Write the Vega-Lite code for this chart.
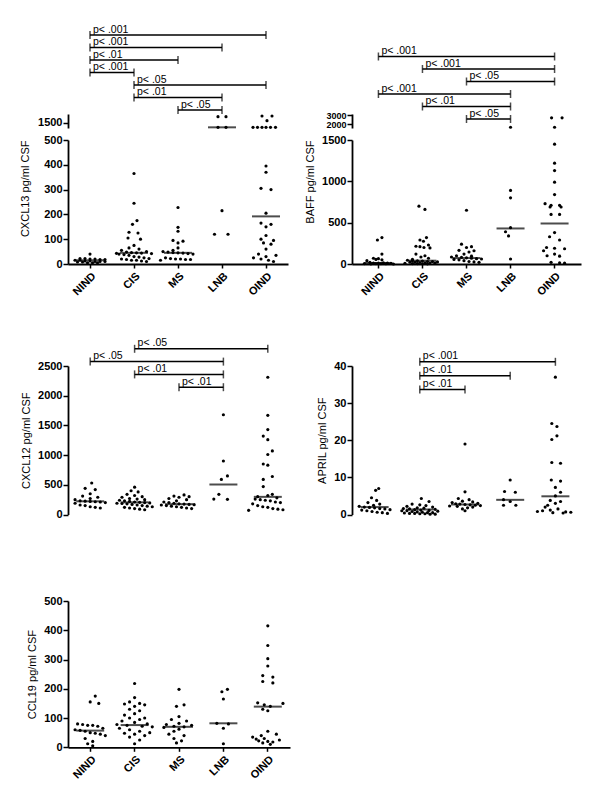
{
"$schema": "https://vega.github.io/schema/vega-lite/v6.json",
"padding": {"left": 19, "top": 24, "right": 5, "bottom": 5},
"config": {
  "font": "Liberation Sans",
  "view": {"stroke": null},
  "axis": {"domainColor": "black", "domainWidth": 1.8, "tickColor": "black", "tickWidth": 1.5, "tickSize": 5, "labelFont": "Liberation Sans", "labelFontWeight": "bold", "labelFontSize": 11, "labelColor": "black", "labelPadding": 1, "labelFlush": false, "labelOverlap": false, "titleFont": "Liberation Sans", "titleFontWeight": "normal", "titleFontSize": 11, "titleColor": "black", "grid": false}
},
"datasets": {
"cxcl13": [
{"g":"NIND","v":40,"dx":0},{"g":"NIND","v":22,"dx":-2},{"g":"NIND","v":22,"dx":-1},{"g":"NIND","v":20,"dx":0},{"g":"NIND","v":20,"dx":1},{"g":"NIND","v":18,"dx":2},{"g":"NIND","v":18,"dx":3},{"g":"NIND","v":15,"dx":-3},{"g":"NIND","v":15,"dx":-2},{"g":"NIND","v":12,"dx":-1},{"g":"NIND","v":12,"dx":0},{"g":"NIND","v":10,"dx":1},{"g":"NIND","v":10,"dx":2},{"g":"NIND","v":10,"dx":3},{"g":"NIND","v":8,"dx":-2.5},{"g":"NIND","v":8,"dx":-1.5},{"g":"NIND","v":5,"dx":-0.5},{"g":"NIND","v":5,"dx":0.5},{"g":"NIND","v":5,"dx":1.5},
{"g":"CIS","v":365,"dx":0},{"g":"CIS","v":245,"dx":0},{"g":"CIS","v":175,"dx":0.6},{"g":"CIS","v":160,"dx":-0.3},{"g":"CIS","v":128,"dx":-1},{"g":"CIS","v":125,"dx":0.8},{"g":"CIS","v":105,"dx":-1.2},{"g":"CIS","v":100,"dx":1.3},{"g":"CIS","v":75,"dx":0},{"g":"CIS","v":65,"dx":-1},{"g":"CIS","v":60,"dx":1},{"g":"CIS","v":55,"dx":-2.5},{"g":"CIS","v":50,"dx":2.5},{"g":"CIS","v":48,"dx":-1.5},{"g":"CIS","v":46,"dx":-0.5},{"g":"CIS","v":45,"dx":0.5},{"g":"CIS","v":44,"dx":1.5},{"g":"CIS","v":43,"dx":-3.5},{"g":"CIS","v":42,"dx":3.5},{"g":"CIS","v":40,"dx":-3},{"g":"CIS","v":38,"dx":-2},{"g":"CIS","v":35,"dx":-1},{"g":"CIS","v":30,"dx":0},{"g":"CIS","v":28,"dx":1},{"g":"CIS","v":25,"dx":2},{"g":"CIS","v":22,"dx":3},{"g":"CIS","v":20,"dx":-2.5},{"g":"CIS","v":18,"dx":-1.5},{"g":"CIS","v":15,"dx":-0.5},{"g":"CIS","v":15,"dx":0.5},{"g":"CIS","v":12,"dx":1.5},{"g":"CIS","v":10,"dx":2.5},
{"g":"MS","v":228,"dx":0},{"g":"MS","v":148,"dx":0},{"g":"MS","v":132,"dx":0},{"g":"MS","v":95,"dx":-1},{"g":"MS","v":92,"dx":1},{"g":"MS","v":85,"dx":0},{"g":"MS","v":65,"dx":0},{"g":"MS","v":55,"dx":-1},{"g":"MS","v":50,"dx":-3},{"g":"MS","v":48,"dx":-2},{"g":"MS","v":46,"dx":-1},{"g":"MS","v":45,"dx":0},{"g":"MS","v":44,"dx":1},{"g":"MS","v":42,"dx":2},{"g":"MS","v":40,"dx":3},{"g":"MS","v":25,"dx":-2.5},{"g":"MS","v":22,"dx":-1.5},{"g":"MS","v":20,"dx":-0.5},{"g":"MS","v":20,"dx":0.5},{"g":"MS","v":18,"dx":1.5},{"g":"MS","v":18,"dx":2.5},{"g":"MS","v":15,"dx":-3.5},
{"g":"LNB","v":1590,"dx":-0.8},{"g":"LNB","v":1590,"dx":0.8},{"g":"LNB","v":1430,"dx":-0.8},{"g":"LNB","v":1430,"dx":0.8},{"g":"LNB","v":215,"dx":0},{"g":"LNB","v":120,"dx":-1.5},{"g":"LNB","v":120,"dx":1.2},
{"g":"OIND","v":1600,"dx":-0.8},{"g":"OIND","v":1600,"dx":1.2},{"g":"OIND","v":1530,"dx":0.2},{"g":"OIND","v":1430,"dx":-2.6},{"g":"OIND","v":1430,"dx":-1.7},{"g":"OIND","v":1430,"dx":-0.8},{"g":"OIND","v":1430,"dx":0},{"g":"OIND","v":1430,"dx":0.9},{"g":"OIND","v":1430,"dx":1.9},{"g":"OIND","v":395,"dx":0},{"g":"OIND","v":370,"dx":0},{"g":"OIND","v":305,"dx":-1},{"g":"OIND","v":300,"dx":1},{"g":"OIND","v":205,"dx":0},{"g":"OIND","v":165,"dx":-1},{"g":"OIND","v":160,"dx":1},{"g":"OIND","v":150,"dx":0},{"g":"OIND","v":115,"dx":0},{"g":"OIND","v":100,"dx":-1},{"g":"OIND","v":95,"dx":1.5},{"g":"OIND","v":85,"dx":-0.5},{"g":"OIND","v":80,"dx":1},{"g":"OIND","v":60,"dx":0},{"g":"OIND","v":40,"dx":-1.5},{"g":"OIND","v":35,"dx":2},{"g":"OIND","v":30,"dx":0},{"g":"OIND","v":25,"dx":-2.5},{"g":"OIND","v":20,"dx":-1},{"g":"OIND","v":15,"dx":0.5},{"g":"OIND","v":10,"dx":1.5}
],
"baff": [
{"g":"NIND","v":320,"dx":0.7},{"g":"NIND","v":290,"dx":-0.2},{"g":"NIND","v":120,"dx":0.7},{"g":"NIND","v":70,"dx":-1},{"g":"NIND","v":65,"dx":0},{"g":"NIND","v":55,"dx":-0.5},{"g":"NIND","v":50,"dx":0.7},{"g":"NIND","v":40,"dx":-2.3},{"g":"NIND","v":20,"dx":-1.7},{"g":"NIND","v":15,"dx":1},{"g":"NIND","v":12,"dx":-1},{"g":"NIND","v":10,"dx":0},{"g":"NIND","v":10,"dx":1.8},{"g":"NIND","v":8,"dx":2.5},{"g":"NIND","v":5,"dx":-2.8},{"g":"NIND","v":5,"dx":-0.5},{"g":"NIND","v":5,"dx":0.5},{"g":"NIND","v":3,"dx":1.5},{"g":"NIND","v":2,"dx":-1.5},{"g":"NIND","v":0,"dx":3},
{"g":"CIS","v":700,"dx":-0.7},{"g":"CIS","v":660,"dx":0.5},{"g":"CIS","v":320,"dx":0.8},{"g":"CIS","v":290,"dx":-0.5},{"g":"CIS","v":275,"dx":0.2},{"g":"CIS","v":230,"dx":1.2},{"g":"CIS","v":215,"dx":-1.3},{"g":"CIS","v":210,"dx":-0.5},{"g":"CIS","v":200,"dx":0.3},{"g":"CIS","v":195,"dx":1.5},{"g":"CIS","v":120,"dx":-1.3},{"g":"CIS","v":100,"dx":0.5},{"g":"CIS","v":85,"dx":-0.3},{"g":"CIS","v":70,"dx":1.2},{"g":"CIS","v":55,"dx":-2},{"g":"CIS","v":45,"dx":-3},{"g":"CIS","v":40,"dx":-2},{"g":"CIS","v":38,"dx":-1},{"g":"CIS","v":35,"dx":0},{"g":"CIS","v":30,"dx":1},{"g":"CIS","v":28,"dx":2},{"g":"CIS","v":25,"dx":3},{"g":"CIS","v":22,"dx":-2.5},{"g":"CIS","v":20,"dx":-1.5},{"g":"CIS","v":18,"dx":-0.5},{"g":"CIS","v":15,"dx":0.5},{"g":"CIS","v":12,"dx":1.5},{"g":"CIS","v":10,"dx":2.5},{"g":"CIS","v":8,"dx":-3.5},{"g":"CIS","v":5,"dx":-2},{"g":"CIS","v":5,"dx":-1},{"g":"CIS","v":3,"dx":0},{"g":"CIS","v":2,"dx":1},
{"g":"MS","v":650,"dx":0},{"g":"MS","v":240,"dx":-1},{"g":"MS","v":210,"dx":1},{"g":"MS","v":200,"dx":0},{"g":"MS","v":165,"dx":-1.5},{"g":"MS","v":160,"dx":1.5},{"g":"MS","v":145,"dx":0.5},{"g":"MS","v":120,"dx":-0.5},{"g":"MS","v":100,"dx":-2},{"g":"MS","v":95,"dx":1},{"g":"MS","v":85,"dx":-3},{"g":"MS","v":80,"dx":-1},{"g":"MS","v":75,"dx":0},{"g":"MS","v":70,"dx":1},{"g":"MS","v":65,"dx":2},{"g":"MS","v":60,"dx":3},{"g":"MS","v":55,"dx":-2.5},{"g":"MS","v":50,"dx":-1.5},{"g":"MS","v":40,"dx":-0.5},{"g":"MS","v":30,"dx":0.5},{"g":"MS","v":25,"dx":1.5},{"g":"MS","v":20,"dx":2.5},
{"g":"LNB","v":1680,"dx":0},{"g":"LNB","v":890,"dx":0},{"g":"LNB","v":800,"dx":0},{"g":"LNB","v":440,"dx":0},{"g":"LNB","v":390,"dx":-1},{"g":"LNB","v":340,"dx":-0.4},{"g":"LNB","v":60,"dx":0},
{"g":"OIND","v":2700,"dx":-0.6},{"g":"OIND","v":2700,"dx":1.5},{"g":"OIND","v":1680,"dx":0},{"g":"OIND","v":1450,"dx":0},{"g":"OIND","v":1220,"dx":0},{"g":"OIND","v":1130,"dx":0},{"g":"OIND","v":990,"dx":0},{"g":"OIND","v":840,"dx":0},{"g":"OIND","v":730,"dx":-1.9},{"g":"OIND","v":710,"dx":-0.7},{"g":"OIND","v":710,"dx":1},{"g":"OIND","v":690,"dx":-0.9},{"g":"OIND","v":690,"dx":1.3},{"g":"OIND","v":600,"dx":-0.7},{"g":"OIND","v":600,"dx":1},{"g":"OIND","v":380,"dx":0},{"g":"OIND","v":330,"dx":-1},{"g":"OIND","v":290,"dx":1},{"g":"OIND","v":200,"dx":-1.6},{"g":"OIND","v":190,"dx":0},{"g":"OIND","v":185,"dx":2},{"g":"OIND","v":160,"dx":-2.2},{"g":"OIND","v":120,"dx":0},{"g":"OIND","v":100,"dx":-1.5},{"g":"OIND","v":95,"dx":1},{"g":"OIND","v":20,"dx":-0.7},{"g":"OIND","v":15,"dx":1},{"g":"OIND","v":10,"dx":2}
],
"cxcl12": [
{"g":"NIND","v":530,"dx":0.3},{"g":"NIND","v":440,"dx":-1},{"g":"NIND","v":420,"dx":1},{"g":"NIND","v":350,"dx":0},{"g":"NIND","v":310,"dx":-1.5},{"g":"NIND","v":290,"dx":1.5},{"g":"NIND","v":270,"dx":0},{"g":"NIND","v":250,"dx":-3},{"g":"NIND","v":230,"dx":-2},{"g":"NIND","v":225,"dx":-1},{"g":"NIND","v":220,"dx":0},{"g":"NIND","v":215,"dx":1},{"g":"NIND","v":210,"dx":2},{"g":"NIND","v":200,"dx":3},{"g":"NIND","v":190,"dx":-3},{"g":"NIND","v":160,"dx":-2},{"g":"NIND","v":150,"dx":-1},{"g":"NIND","v":130,"dx":0},{"g":"NIND","v":120,"dx":1},{"g":"NIND","v":110,"dx":2},
{"g":"CIS","v":460,"dx":0},{"g":"CIS","v":400,"dx":-0.7},{"g":"CIS","v":380,"dx":0.7},{"g":"CIS","v":340,"dx":-1.5},{"g":"CIS","v":320,"dx":0},{"g":"CIS","v":300,"dx":1.5},{"g":"CIS","v":290,"dx":-2.5},{"g":"CIS","v":270,"dx":-1},{"g":"CIS","v":260,"dx":0.5},{"g":"CIS","v":250,"dx":2},{"g":"CIS","v":240,"dx":-3},{"g":"CIS","v":230,"dx":-2},{"g":"CIS","v":220,"dx":-1},{"g":"CIS","v":210,"dx":0},{"g":"CIS","v":205,"dx":1},{"g":"CIS","v":200,"dx":2},{"g":"CIS","v":195,"dx":3},{"g":"CIS","v":190,"dx":-3.5},{"g":"CIS","v":185,"dx":-2.5},{"g":"CIS","v":180,"dx":-1.5},{"g":"CIS","v":170,"dx":-0.5},{"g":"CIS","v":160,"dx":0.5},{"g":"CIS","v":150,"dx":1.5},{"g":"CIS","v":140,"dx":2.5},{"g":"CIS","v":130,"dx":3.5},{"g":"CIS","v":120,"dx":-2},{"g":"CIS","v":110,"dx":-1},{"g":"CIS","v":100,"dx":0},{"g":"CIS","v":90,"dx":1},{"g":"CIS","v":80,"dx":2},
{"g":"MS","v":330,"dx":1},{"g":"MS","v":310,"dx":-1},{"g":"MS","v":300,"dx":2},{"g":"MS","v":290,"dx":0},{"g":"MS","v":270,"dx":-2},{"g":"MS","v":250,"dx":1.5},{"g":"MS","v":230,"dx":-0.5},{"g":"MS","v":210,"dx":-3},{"g":"MS","v":200,"dx":-2},{"g":"MS","v":190,"dx":-1},{"g":"MS","v":180,"dx":0},{"g":"MS","v":175,"dx":1},{"g":"MS","v":170,"dx":2},{"g":"MS","v":165,"dx":3},{"g":"MS","v":160,"dx":-3.5},{"g":"MS","v":150,"dx":-2.5},{"g":"MS","v":140,"dx":-1.5},{"g":"MS","v":130,"dx":-0.5},{"g":"MS","v":120,"dx":0.5},{"g":"MS","v":110,"dx":1.5},{"g":"MS","v":100,"dx":2.5},
{"g":"LNB","v":1680,"dx":0},{"g":"LNB","v":900,"dx":0},{"g":"LNB","v":650,"dx":0.8},{"g":"LNB","v":590,"dx":-0.4},{"g":"LNB","v":340,"dx":-0.9},{"g":"LNB","v":260,"dx":-1.9},{"g":"LNB","v":255,"dx":0.8},
{"g":"OIND","v":2310,"dx":0},{"g":"OIND","v":1670,"dx":0},{"g":"OIND","v":1430,"dx":0},{"g":"OIND","v":1320,"dx":-0.9},{"g":"OIND","v":1260,"dx":0},{"g":"OIND","v":1070,"dx":0.9},{"g":"OIND","v":1010,"dx":0},{"g":"OIND","v":850,"dx":-0.9},{"g":"OIND","v":830,"dx":0},{"g":"OIND","v":640,"dx":0.9},{"g":"OIND","v":590,"dx":-0.9},{"g":"OIND","v":470,"dx":-0.9},{"g":"OIND","v":340,"dx":0.9},{"g":"OIND","v":320,"dx":0},{"g":"OIND","v":300,"dx":-2},{"g":"OIND","v":280,"dx":1.8},{"g":"OIND","v":260,"dx":-2.5},{"g":"OIND","v":250,"dx":-1.5},{"g":"OIND","v":240,"dx":-0.5},{"g":"OIND","v":230,"dx":0.5},{"g":"OIND","v":210,"dx":1.5},{"g":"OIND","v":200,"dx":2.5},{"g":"OIND","v":180,"dx":-3},{"g":"OIND","v":150,"dx":-2},{"g":"OIND","v":130,"dx":-1},{"g":"OIND","v":120,"dx":0},{"g":"OIND","v":100,"dx":1},{"g":"OIND","v":90,"dx":2},{"g":"OIND","v":80,"dx":3},{"g":"OIND","v":70,"dx":-3.8}
],
"april": [
{"g":"NIND","v":7,"dx":0.8},{"g":"NIND","v":6.5,"dx":0.2},{"g":"NIND","v":4.5,"dx":-0.6},{"g":"NIND","v":3.8,"dx":0.4},{"g":"NIND","v":3.2,"dx":-1.3},{"g":"NIND","v":2.8,"dx":1},{"g":"NIND","v":2.5,"dx":-0.2},{"g":"NIND","v":2.2,"dx":-3},{"g":"NIND","v":2.0,"dx":-2},{"g":"NIND","v":1.9,"dx":-1},{"g":"NIND","v":1.8,"dx":0},{"g":"NIND","v":1.6,"dx":1},{"g":"NIND","v":1.5,"dx":2},{"g":"NIND","v":1.3,"dx":3},{"g":"NIND","v":1.2,"dx":-2.5},{"g":"NIND","v":1.0,"dx":-1.5},{"g":"NIND","v":0.8,"dx":-0.5},{"g":"NIND","v":0.6,"dx":0.5},{"g":"NIND","v":0.5,"dx":1.5},{"g":"NIND","v":0.3,"dx":2.5},
{"g":"CIS","v":4.3,"dx":0.3},{"g":"CIS","v":3.5,"dx":1.8},{"g":"CIS","v":2.8,"dx":-1.5},{"g":"CIS","v":2.6,"dx":0},{"g":"CIS","v":2.4,"dx":1.2},{"g":"CIS","v":2.2,"dx":-2.5},{"g":"CIS","v":2.0,"dx":2.5},{"g":"CIS","v":1.8,"dx":-0.5},{"g":"CIS","v":1.7,"dx":0.8},{"g":"CIS","v":1.6,"dx":-3.2},{"g":"CIS","v":1.5,"dx":-2},{"g":"CIS","v":1.4,"dx":3},{"g":"CIS","v":1.3,"dx":-1},{"g":"CIS","v":1.2,"dx":0.2},{"g":"CIS","v":1.1,"dx":1.8},{"g":"CIS","v":1.0,"dx":-3.5},{"g":"CIS","v":1.0,"dx":-2.5},{"g":"CIS","v":0.9,"dx":3.5},{"g":"CIS","v":0.8,"dx":-1.5},{"g":"CIS","v":0.7,"dx":-0.5},{"g":"CIS","v":0.6,"dx":0.5},{"g":"CIS","v":0.5,"dx":1.5},{"g":"CIS","v":0.5,"dx":2.5},{"g":"CIS","v":0.4,"dx":-3},{"g":"CIS","v":0.3,"dx":-2},{"g":"CIS","v":0.3,"dx":-1},{"g":"CIS","v":0.2,"dx":0},{"g":"CIS","v":0.2,"dx":1},{"g":"CIS","v":0.1,"dx":2},{"g":"CIS","v":0.1,"dx":3},
{"g":"MS","v":19,"dx":0},{"g":"MS","v":6.1,"dx":0},{"g":"MS","v":4.3,"dx":-1.3},{"g":"MS","v":4.0,"dx":0.8},{"g":"MS","v":3.6,"dx":-0.5},{"g":"MS","v":3.4,"dx":1.5},{"g":"MS","v":3.2,"dx":-2.5},{"g":"MS","v":3.0,"dx":2.5},{"g":"MS","v":2.9,"dx":-1.8},{"g":"MS","v":2.8,"dx":-1},{"g":"MS","v":2.7,"dx":0},{"g":"MS","v":2.6,"dx":1},{"g":"MS","v":2.5,"dx":2},{"g":"MS","v":2.4,"dx":3},{"g":"MS","v":2.3,"dx":-3},{"g":"MS","v":2.2,"dx":-1.5},{"g":"MS","v":2.0,"dx":1.5},{"g":"MS","v":1.8,"dx":0.5},{"g":"MS","v":1.5,"dx":-0.5},{"g":"MS","v":1.0,"dx":0},
{"g":"LNB","v":9.3,"dx":0},{"g":"LNB","v":6.2,"dx":-1.1},{"g":"LNB","v":6.0,"dx":1},{"g":"LNB","v":4.0,"dx":-1.3},{"g":"LNB","v":3.5,"dx":0},{"g":"LNB","v":2.5,"dx":-1.3},{"g":"LNB","v":2.5,"dx":1.1},
{"g":"OIND","v":37,"dx":0},{"g":"OIND","v":24.5,"dx":-0.7},{"g":"OIND","v":23.7,"dx":0.3},{"g":"OIND","v":21.2,"dx":0.3},{"g":"OIND","v":20.2,"dx":-0.7},{"g":"OIND","v":14,"dx":-0.7},{"g":"OIND","v":13.8,"dx":1},{"g":"OIND","v":9.3,"dx":-0.8},{"g":"OIND","v":9.0,"dx":1},{"g":"OIND","v":7.3,"dx":0},{"g":"OIND","v":6.0,"dx":1},{"g":"OIND","v":5.0,"dx":0},{"g":"OIND","v":3.8,"dx":-1},{"g":"OIND","v":3.5,"dx":1},{"g":"OIND","v":3.0,"dx":0},{"g":"OIND","v":2.5,"dx":-1.5},{"g":"OIND","v":2.0,"dx":-2},{"g":"OIND","v":1.5,"dx":0.5},{"g":"OIND","v":1.2,"dx":-1},{"g":"OIND","v":1.0,"dx":-2.5},{"g":"OIND","v":0.8,"dx":-3.5},{"g":"OIND","v":0.7,"dx":2},{"g":"OIND","v":0.6,"dx":3},{"g":"OIND","v":0.5,"dx":-0.5},{"g":"OIND","v":0.4,"dx":1.5}
],
"ccl19": [
{"g":"NIND","v":175,"dx":1},{"g":"NIND","v":155,"dx":0},{"g":"NIND","v":150,"dx":1.7},{"g":"NIND","v":80,"dx":-2.5},{"g":"NIND","v":78,"dx":-1.5},{"g":"NIND","v":75,"dx":-0.5},{"g":"NIND","v":75,"dx":0.5},{"g":"NIND","v":72,"dx":1.5},{"g":"NIND","v":65,"dx":2.5},{"g":"NIND","v":60,"dx":-3},{"g":"NIND","v":58,"dx":-2},{"g":"NIND","v":55,"dx":-1},{"g":"NIND","v":50,"dx":0},{"g":"NIND","v":48,"dx":1},{"g":"NIND","v":45,"dx":2},{"g":"NIND","v":40,"dx":3},{"g":"NIND","v":30,"dx":-1},{"g":"NIND","v":20,"dx":0.5},{"g":"NIND","v":12,"dx":-0.5},{"g":"NIND","v":5,"dx":0.5},
{"g":"CIS","v":218,"dx":0},{"g":"CIS","v":170,"dx":0},{"g":"CIS","v":155,"dx":-1},{"g":"CIS","v":150,"dx":1},{"g":"CIS","v":148,"dx":-2},{"g":"CIS","v":145,"dx":2},{"g":"CIS","v":140,"dx":0},{"g":"CIS","v":130,"dx":-1},{"g":"CIS","v":125,"dx":1},{"g":"CIS","v":115,"dx":0},{"g":"CIS","v":110,"dx":-2},{"g":"CIS","v":100,"dx":2},{"g":"CIS","v":100,"dx":-1},{"g":"CIS","v":95,"dx":1},{"g":"CIS","v":90,"dx":-2.5},{"g":"CIS","v":85,"dx":0},{"g":"CIS","v":80,"dx":2.5},{"g":"CIS","v":78,"dx":-3.5},{"g":"CIS","v":75,"dx":-1.5},{"g":"CIS","v":72,"dx":1.5},{"g":"CIS","v":70,"dx":3.5},{"g":"CIS","v":65,"dx":-3},{"g":"CIS","v":60,"dx":-1},{"g":"CIS","v":55,"dx":1},{"g":"CIS","v":50,"dx":3},{"g":"CIS","v":48,"dx":-2},{"g":"CIS","v":45,"dx":0},{"g":"CIS","v":40,"dx":2},{"g":"CIS","v":35,"dx":-1},{"g":"CIS","v":25,"dx":1},{"g":"CIS","v":12,"dx":0},
{"g":"MS","v":198,"dx":0},{"g":"MS","v":145,"dx":1},{"g":"MS","v":140,"dx":-0.5},{"g":"MS","v":105,"dx":0},{"g":"MS","v":95,"dx":-1.5},{"g":"MS","v":90,"dx":1.5},{"g":"MS","v":82,"dx":0},{"g":"MS","v":78,"dx":-2.5},{"g":"MS","v":75,"dx":2.5},{"g":"MS","v":72,"dx":-1},{"g":"MS","v":70,"dx":1},{"g":"MS","v":68,"dx":-3},{"g":"MS","v":62,"dx":0},{"g":"MS","v":55,"dx":-1},{"g":"MS","v":45,"dx":-2},{"g":"MS","v":40,"dx":1},{"g":"MS","v":30,"dx":-1},{"g":"MS","v":22,"dx":0.5},{"g":"MS","v":15,"dx":-0.5},
{"g":"LNB","v":198,"dx":0.8},{"g":"LNB","v":190,"dx":-0.3},{"g":"LNB","v":165,"dx":0},{"g":"LNB","v":82,"dx":-1.3},{"g":"LNB","v":80,"dx":1},{"g":"LNB","v":65,"dx":0},{"g":"LNB","v":12,"dx":0},
{"g":"OIND","v":415,"dx":0},{"g":"OIND","v":348,"dx":0},{"g":"OIND","v":303,"dx":0},{"g":"OIND","v":278,"dx":0},{"g":"OIND","v":245,"dx":-1},{"g":"OIND","v":240,"dx":1},{"g":"OIND","v":225,"dx":-1},{"g":"OIND","v":220,"dx":1},{"g":"OIND","v":152,"dx":-2},{"g":"OIND","v":150,"dx":3},{"g":"OIND","v":145,"dx":-0.7},{"g":"OIND","v":140,"dx":0.5},{"g":"OIND","v":130,"dx":-1},{"g":"OIND","v":125,"dx":0},{"g":"OIND","v":55,"dx":0},{"g":"OIND","v":45,"dx":1.7},{"g":"OIND","v":40,"dx":-1.3},{"g":"OIND","v":35,"dx":-3},{"g":"OIND","v":30,"dx":-0.7},{"g":"OIND","v":28,"dx":-2.3},{"g":"OIND","v":25,"dx":2.3},{"g":"OIND","v":22,"dx":-1.8},{"g":"OIND","v":20,"dx":0},{"g":"OIND","v":18,"dx":1},{"g":"OIND","v":15,"dx":-1},{"g":"OIND","v":10,"dx":0.5}
],
"med": [
{"p":"CXCL13","g":"NIND","v":15},{"p":"CXCL13","g":"CIS","v":45},{"p":"CXCL13","g":"MS","v":45},{"p":"CXCL13","g":"LNB","v":1430},{"p":"CXCL13","g":"OIND","v":192},
{"p":"BAFF","g":"NIND","v":12},{"p":"BAFF","g":"CIS","v":40},{"p":"BAFF","g":"MS","v":72},{"p":"BAFF","g":"LNB","v":430},{"p":"BAFF","g":"OIND","v":490},
{"p":"CXCL12","g":"NIND","v":222},{"p":"CXCL12","g":"CIS","v":205},{"p":"CXCL12","g":"MS","v":174},{"p":"CXCL12","g":"LNB","v":505},{"p":"CXCL12","g":"OIND","v":297},
{"p":"APRIL","g":"NIND","v":2.0},{"p":"APRIL","g":"CIS","v":1.35},{"p":"APRIL","g":"MS","v":2.7},{"p":"APRIL","g":"LNB","v":3.95},{"p":"APRIL","g":"OIND","v":4.9},
{"p":"CCL19","g":"NIND","v":57},{"p":"CCL19","g":"CIS","v":76},{"p":"CCL19","g":"MS","v":70},{"p":"CCL19","g":"LNB","v":82},{"p":"CCL19","g":"OIND","v":139}
],
"sig": [
{"p":"CXCL13","a":"NIND","b":"OIND","lvl":7,"lab":"p< .001"},
{"p":"CXCL13","a":"NIND","b":"LNB","lvl":6,"lab":"p< .001"},
{"p":"CXCL13","a":"NIND","b":"MS","lvl":5,"lab":"p< .01"},
{"p":"CXCL13","a":"NIND","b":"CIS","lvl":4,"lab":"p< .001"},
{"p":"CXCL13","a":"CIS","b":"OIND","lvl":3,"lab":"p< .05"},
{"p":"CXCL13","a":"CIS","b":"LNB","lvl":2,"lab":"p< .01"},
{"p":"CXCL13","a":"MS","b":"LNB","lvl":1,"lab":"p< .05"},
{"p":"BAFF","a":"NIND","b":"OIND","lvl":6,"lab":"p< .001"},
{"p":"BAFF","a":"CIS","b":"OIND","lvl":5,"lab":"p< .001"},
{"p":"BAFF","a":"MS","b":"OIND","lvl":4,"lab":"p< .05"},
{"p":"BAFF","a":"NIND","b":"LNB","lvl":3,"lab":"p< .001"},
{"p":"BAFF","a":"CIS","b":"LNB","lvl":2,"lab":"p< .01"},
{"p":"BAFF","a":"MS","b":"LNB","lvl":1,"lab":"p< .05"},
{"p":"CXCL12","a":"CIS","b":"OIND","lvl":4,"lab":"p< .05"},
{"p":"CXCL12","a":"NIND","b":"LNB","lvl":3,"lab":"p< .05"},
{"p":"CXCL12","a":"CIS","b":"LNB","lvl":2,"lab":"p< .01"},
{"p":"CXCL12","a":"MS","b":"LNB","lvl":1,"lab":"p< .01"},
{"p":"APRIL","a":"CIS","b":"OIND","lvl":3,"lab":"p< .001"},
{"p":"APRIL","a":"CIS","b":"LNB","lvl":2,"lab":"p< .01"},
{"p":"APRIL","a":"CIS","b":"MS","lvl":1,"lab":"p< .01"}
]
},
"bounds": "flush",
"columns": 2,
"spacing": {"row": 12, "column": 62},
"resolve": {"scale": {"xOffset": "independent"}},
"concat": [
{
 "width": 220, "height": 14,
 "resolve": {"scale": {"y": "independent"}},
 "layer": [
  {"encoding": {
     "x": {"field": "g", "type": "nominal", "scale": {"type": "band", "domain": ["NIND","CIS","MS","LNB","OIND"], "paddingInner": 0, "paddingOuter": 0}, "axis": null},
     "y": {"field": "v", "type": "quantitative", "scale": {"domain": [1420, 1630], "nice": false, "zero": false}, "axis": {"values": [1500], "title": null, "format": "d", "labelOverlap": false}}},
   "layer": [
    {"data": {"name": "cxcl13"}, "transform": [{"filter": "datum.v >= 1000"}],
     "mark": {"type": "circle", "size": 10, "color": "black", "opacity": 1},
     "encoding": {"xOffset": {"field": "dx", "type": "quantitative", "scale": {"domain": [-4.4, 4.4]}}}},
    {"data": {"name": "med"}, "transform": [{"filter": "datum.p === 'CXCL13' && datum.v >= 1000"}],
     "mark": {"type": "tick", "size": 28, "thickness": 2, "color": "black"}}
  ]},
  {"data": {"name": "sig"}, "transform": [{"filter": "datum.p === 'CXCL13'"}],
   "encoding": {"y": {"field": "lvl", "type": "quantitative", "scale": {"domain": [-0.44, 0.68], "nice": false, "zero": false}, "axis": null}},
   "layer": [
    {"mark": {"type": "rule", "color": "black", "strokeWidth": 1.5}, "encoding": {"x": {"field": "a", "type": "nominal", "axis": null}, "x2": {"field": "b"}}},
    {"mark": {"type": "tick", "orient": "vertical", "size": 8, "thickness": 1.5, "color": "black"}, "encoding": {"x": {"field": "a", "type": "nominal", "axis": null}}},
    {"mark": {"type": "tick", "orient": "vertical", "size": 8, "thickness": 1.5, "color": "black"}, "encoding": {"x": {"field": "b", "type": "nominal", "axis": null}}},
    {"mark": {"type": "text", "align": "left", "baseline": "alphabetic", "dx": 3, "dy": -2.5, "fontSize": 10.5, "color": "black"}, "encoding": {"x": {"field": "a", "type": "nominal", "axis": null}, "text": {"field": "lab"}}}
   ]}
 ]
},
{
 "width": 229, "height": 14,
 "resolve": {"scale": {"y": "independent"}},
 "layer": [
  {"encoding": {
     "x": {"field": "g", "type": "nominal", "scale": {"type": "band", "domain": ["NIND","CIS","MS","LNB","OIND"], "paddingInner": 0, "paddingOuter": 0.1}, "axis": null},
     "y": {"field": "v", "type": "quantitative", "scale": {"domain": [1600, 3110], "nice": false, "zero": false}, "axis": {"values": [2000, 3000], "title": null, "format": "d", "labelOverlap": false, "labelFontSize": 9}}},
   "layer": [
    {"data": {"name": "baff"}, "transform": [{"filter": "datum.v >= 1600"}],
     "mark": {"type": "circle", "size": 10, "color": "black", "opacity": 1},
     "encoding": {"xOffset": {"field": "dx", "type": "quantitative", "scale": {"domain": [-4.4, 4.4]}}}},
    {"data": {"name": "med"}, "transform": [{"filter": "datum.p === 'BAFF' && datum.v >= 1600"}],
     "mark": {"type": "tick", "size": 28, "thickness": 2, "color": "black"}}
  ]},
  {"data": {"name": "sig"}, "transform": [{"filter": "datum.p === 'BAFF'"}],
   "encoding": {"y": {"field": "lvl", "type": "quantitative", "scale": {"domain": [0.28, 1.40], "nice": false, "zero": false}, "axis": null}},
   "layer": [
    {"mark": {"type": "rule", "color": "black", "strokeWidth": 1.5}, "encoding": {"x": {"field": "a", "type": "nominal", "axis": null}, "x2": {"field": "b"}}},
    {"mark": {"type": "tick", "orient": "vertical", "size": 8, "thickness": 1.5, "color": "black"}, "encoding": {"x": {"field": "a", "type": "nominal", "axis": null}}},
    {"mark": {"type": "tick", "orient": "vertical", "size": 8, "thickness": 1.5, "color": "black"}, "encoding": {"x": {"field": "b", "type": "nominal", "axis": null}}},
    {"mark": {"type": "text", "align": "left", "baseline": "alphabetic", "dx": 3, "dy": -2.5, "fontSize": 10.5, "color": "black"}, "encoding": {"x": {"field": "a", "type": "nominal", "axis": null}, "text": {"field": "lab"}}}
   ]}
 ]
},
{
 "width": 220, "height": 124,
 "encoding": {
   "x": {"field": "g", "type": "nominal", "scale": {"type": "band", "domain": ["NIND","CIS","MS","LNB","OIND"], "paddingInner": 0, "paddingOuter": 0}, "axis": {"title": null, "labelAngle": -45, "tickSize": 4, "labelPadding": 2}},
   "y": {"field": "v", "type": "quantitative", "scale": {"domain": [0, 500], "nice": false, "zero": false}, "axis": {"values": [0,100,200,300,400,500], "format": "d", "labelOverlap": false, "title": "CXCL13 pg/ml CSF", "titleAnchor": "end", "titlePadding": 13}}},
 "layer": [
  {"data": {"name": "cxcl13"}, "transform": [{"filter": "datum.v < 1000"}],
   "mark": {"type": "circle", "size": 10, "color": "black", "opacity": 1},
   "encoding": {"xOffset": {"field": "dx", "type": "quantitative", "scale": {"domain": [-4.4, 4.4]}}}},
  {"data": {"name": "med"}, "transform": [{"filter": "datum.p === 'CXCL13' && datum.v < 1000"}],
   "mark": {"type": "tick", "size": 28, "thickness": 2, "color": "black"}}
 ]
},
{
 "width": 229, "height": 124,
 "encoding": {
   "x": {"field": "g", "type": "nominal", "scale": {"type": "band", "domain": ["NIND","CIS","MS","LNB","OIND"], "paddingInner": 0, "paddingOuter": 0.1}, "axis": {"title": null, "labelAngle": -45, "tickSize": 4, "labelPadding": 2}},
   "y": {"field": "v", "type": "quantitative", "scale": {"domain": [0, 1500], "nice": false, "zero": false}, "axis": {"values": [0,500,1000,1500], "format": "d", "labelOverlap": false, "title": "BAFF pg/ml CSF", "titleAnchor": "end", "titlePadding": 6}}},
 "layer": [
  {"data": {"name": "baff"}, "transform": [{"filter": "datum.v < 1600"}],
   "mark": {"type": "circle", "size": 10, "color": "black", "opacity": 1},
   "encoding": {"xOffset": {"field": "dx", "type": "quantitative", "scale": {"domain": [-4.4, 4.4]}}}},
  {"data": {"name": "med"}, "transform": [{"filter": "datum.p === 'BAFF' && datum.v < 1600"}],
   "mark": {"type": "tick", "size": 28, "thickness": 2, "color": "black"}}
 ]
},
{"width": 10, "height": 77.5, "data": {"values": [{"k": 0}]}, "mark": {"type": "point", "opacity": 0}, "encoding": {}},
{"width": 10, "height": 77.5, "data": {"values": [{"k": 0}]}, "mark": {"type": "point", "opacity": 0}, "encoding": {}},
{
 "width": 222, "height": 148.5,
 "resolve": {"scale": {"y": "independent"}},
 "layer": [
  {"encoding": {
     "x": {"field": "g", "type": "nominal", "scale": {"type": "band", "domain": ["NIND","CIS","MS","LNB","OIND"], "paddingInner": 0, "paddingOuter": 0}, "axis": {"title": null, "labelAngle": -45, "tickSize": 4, "labelPadding": 2}},
     "y": {"field": "v", "type": "quantitative", "scale": {"domain": [0, 2500], "nice": false, "zero": false}, "axis": {"values": [0,500,1000,1500,2000,2500], "format": "d", "labelOverlap": false, "title": "CXCL12 pg/ml CSF", "titlePadding": 6}}},
   "layer": [
    {"data": {"name": "cxcl12"},
     "mark": {"type": "circle", "size": 10, "color": "black", "opacity": 1},
     "encoding": {"xOffset": {"field": "dx", "type": "quantitative", "scale": {"domain": [-4.4, 4.4]}}}},
    {"data": {"name": "med"}, "transform": [{"filter": "datum.p === 'CXCL12'"}],
     "mark": {"type": "tick", "size": 28, "thickness": 2, "color": "black"}}
  ]},
  {"data": {"name": "sig"}, "transform": [{"filter": "datum.p === 'CXCL12'"}],
   "encoding": {"y": {"field": "lvl", "type": "quantitative", "scale": {"domain": [-8.945, 2.657], "nice": false, "zero": false}, "axis": null}},
   "layer": [
    {"mark": {"type": "rule", "color": "black", "strokeWidth": 1.5}, "encoding": {"x": {"field": "a", "type": "nominal", "axis": null}, "x2": {"field": "b"}}},
    {"mark": {"type": "tick", "orient": "vertical", "size": 8, "thickness": 1.5, "color": "black"}, "encoding": {"x": {"field": "a", "type": "nominal", "axis": null}}},
    {"mark": {"type": "tick", "orient": "vertical", "size": 8, "thickness": 1.5, "color": "black"}, "encoding": {"x": {"field": "b", "type": "nominal", "axis": null}}},
    {"mark": {"type": "text", "align": "left", "baseline": "alphabetic", "dx": 3, "dy": -2.5, "fontSize": 10.5, "color": "black"}, "encoding": {"x": {"field": "a", "type": "nominal", "axis": null}, "text": {"field": "lab"}}}
   ]}
 ]
},
{
 "width": 226, "height": 148.5,
 "resolve": {"scale": {"y": "independent"}},
 "layer": [
  {"encoding": {
     "x": {"field": "g", "type": "nominal", "scale": {"type": "band", "domain": ["NIND","CIS","MS","LNB","OIND"], "paddingInner": 0, "paddingOuter": 0}, "axis": {"title": null, "labelAngle": -45, "tickSize": 4, "labelPadding": 2}},
     "y": {"field": "v", "type": "quantitative", "scale": {"domain": [0, 40], "nice": false, "zero": false}, "axis": {"values": [0,10,20,30,40], "format": "d", "labelOverlap": false, "title": "APRIL pg/ml CSF", "titlePadding": 6}}},
   "layer": [
    {"data": {"name": "april"},
     "mark": {"type": "circle", "size": 10, "color": "black", "opacity": 1},
     "encoding": {"xOffset": {"field": "dx", "type": "quantitative", "scale": {"domain": [-4.4, 4.4]}}}},
    {"data": {"name": "med"}, "transform": [{"filter": "datum.p === 'APRIL'"}],
     "mark": {"type": "tick", "size": 28, "thickness": 2, "color": "black"}}
  ]},
  {"data": {"name": "sig"}, "transform": [{"filter": "datum.p === 'APRIL'"}],
   "encoding": {"y": {"field": "lvl", "type": "quantitative", "scale": {"domain": [-8.025, 2.697], "nice": false, "zero": false}, "axis": null}},
   "layer": [
    {"mark": {"type": "rule", "color": "black", "strokeWidth": 1.5}, "encoding": {"x": {"field": "a", "type": "nominal", "axis": null}, "x2": {"field": "b"}}},
    {"mark": {"type": "tick", "orient": "vertical", "size": 8, "thickness": 1.5, "color": "black"}, "encoding": {"x": {"field": "a", "type": "nominal", "axis": null}}},
    {"mark": {"type": "tick", "orient": "vertical", "size": 8, "thickness": 1.5, "color": "black"}, "encoding": {"x": {"field": "b", "type": "nominal", "axis": null}}},
    {"mark": {"type": "text", "align": "left", "baseline": "alphabetic", "dx": 3, "dy": -2.5, "fontSize": 10.5, "color": "black"}, "encoding": {"x": {"field": "a", "type": "nominal", "axis": null}, "text": {"field": "lab"}}}
   ]}
 ]
},
{"width": 10, "height": 62, "data": {"values": [{"k": 0}]}, "mark": {"type": "point", "opacity": 0}, "encoding": {}},
{"width": 10, "height": 62, "data": {"values": [{"k": 0}]}, "mark": {"type": "point", "opacity": 0}, "encoding": {}},
{
 "width": 222, "height": 146.3,
 "encoding": {
   "x": {"field": "g", "type": "nominal", "scale": {"type": "band", "domain": ["NIND","CIS","MS","LNB","OIND"], "paddingInner": 0, "paddingOuter": 0}, "axis": {"title": null, "labelAngle": -45, "tickSize": 4, "labelPadding": 2}},
   "y": {"field": "v", "type": "quantitative", "scale": {"domain": [0, 500], "nice": false, "zero": false}, "axis": {"values": [0,100,200,300,400,500], "format": "d", "labelOverlap": false, "title": "CCL19 pg/ml CSF", "titlePadding": 6}}},
 "layer": [
  {"data": {"name": "ccl19"},
   "mark": {"type": "circle", "size": 10, "color": "black", "opacity": 1},
   "encoding": {"xOffset": {"field": "dx", "type": "quantitative", "scale": {"domain": [-4.4, 4.4]}}}},
  {"data": {"name": "med"}, "transform": [{"filter": "datum.p === 'CCL19'"}],
   "mark": {"type": "tick", "size": 28, "thickness": 2, "color": "black"}}
 ]
}
]
}
